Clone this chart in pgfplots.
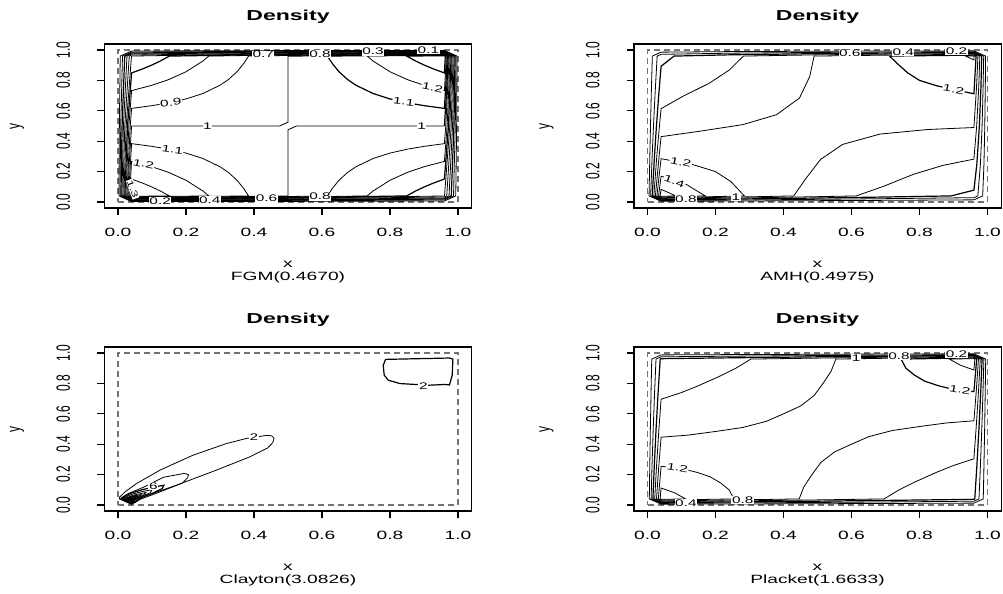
\documentclass[border=0pt]{standalone}
\usepackage{fontspec}
\setmainfont[FakeStretch=1.6]{Liberation Sans}
\newfontfamily\plainsans{Liberation Sans}
\usepackage{pgfplots}
\pgfplotsset{compat=1.18}

\pgfplotsset{
  rpanel/.style={
    anchor=south west, scale only axis,
    width=183.6pt, height=82.08pt,
    xmin=-0.04, xmax=1.04, ymin=-0.04, ymax=1.04,
    axis line style={black, line width=0.6pt},
    xtick={0,0.2,0.4,0.6,0.8,1}, ytick={0,0.2,0.4,0.6,0.8,1},
    xticklabels={0.0,0.2,0.4,0.6,0.8,1.0},
    yticklabels={0.0,0.2,0.4,0.6,0.8,1.0},
    xtick pos=bottom, ytick pos=left,
    tick align=outside, major tick length=3.5pt,
    tick style={black, line width=0.6pt},
    xticklabel style={font=\fontsize{6}{7}\selectfont},
    xticklabel shift=3pt,
    yticklabel style={font=\plainsans\fontsize{6}{7}\selectfont, xscale=1.6, rotate=90, anchor=south},
    yticklabel shift=8pt,
    cycle list={{black, solid, mark=none, line width=0.6pt}},
  },
  unitsq/.style={black!55, line width=0.6pt, dash pattern=on 3pt off 2pt},
}
\tikzset{clab/.style={font=\fontsize{4.8}{5}\selectfont, fill=white, inner sep=0.3pt}}

\begin{document}
\begin{tikzpicture}
\useasboundingbox (0pt,0pt) rectangle (501.5pt,-297pt);

% ---------------- FGM ----------------
\begin{axis}[rpanel, at={(52.2pt,-104.04pt)}]
\addplot[unitsq] coordinates {(0,0)(1,0)(1,1)(0,1)(0,0)};
% levels 0.1 - 0.6
\addplot coordinates {(0.0029,0.04)(0.004,0.5)(0.0066,0.96)(0.04,0.9934)(0.5,0.996)(0.96,0.9971)(0.9971,0.96)(0.996,0.5)(0.9934,0.04)(0.96,0.0066)(0.5,0.004)(0.04,0.0029)(0.0029,0.04)};
\addplot coordinates {(0.0057,0.04)(0.008,0.5)(0.0132,0.96)(0.04,0.9868)(0.5,0.992)(0.96,0.9943)(0.9943,0.96)(0.992,0.5)(0.9868,0.04)(0.96,0.0132)(0.5,0.008)(0.04,0.0057)(0.0057,0.04)};
\addplot coordinates {(0.0086,0.04)(0.012,0.5)(0.0198,0.96)(0.04,0.9802)(0.5,0.988)(0.96,0.9914)(0.9914,0.96)(0.988,0.5)(0.9802,0.04)(0.96,0.0198)(0.5,0.012)(0.04,0.0086)(0.0086,0.04)};
\addplot coordinates {(0.0115,0.04)(0.016,0.5)(0.0264,0.96)(0.04,0.9736)(0.5,0.984)(0.96,0.9885)(0.9885,0.96)(0.984,0.5)(0.9736,0.04)(0.96,0.0264)(0.5,0.016)(0.04,0.0115)(0.0115,0.04)};
\addplot coordinates {(0.0143,0.04)(0.02,0.5)(0.0331,0.96)(0.04,0.9669)(0.5,0.98)(0.96,0.9857)(0.9857,0.96)(0.98,0.5)(0.9669,0.04)(0.96,0.0331)(0.5,0.02)(0.04,0.0143)(0.0143,0.04)};
\addplot coordinates {(0.0172,0.04)(0.024,0.5)(0.0397,0.96)(0.04,0.9603)(0.5,0.976)(0.96,0.9828)(0.9828,0.96)(0.976,0.5)(0.9603,0.04)(0.96,0.0397)(0.5,0.024)(0.04,0.0172)(0.0172,0.04)};
% 0.7
\addplot coordinates {(0.0201,0.04)(0.028,0.5)(0.04,0.849)(0.075,0.878)(0.1,0.9015)(0.125,0.928)(0.151,0.96)(0.5,0.972)(0.96,0.9799)(0.9799,0.96)(0.972,0.5)(0.96,0.151)(0.925,0.122)(0.9,0.0985)(0.875,0.072)(0.849,0.04)(0.5,0.028)(0.04,0.0201)(0.0201,0.04)};
% 0.8
\addplot coordinates {(0.0229,0.04)(0.032,0.5)(0.04,0.733)(0.1,0.768)(0.15,0.806)(0.2,0.857)(0.25,0.928)(0.267,0.96)(0.5,0.968)(0.96,0.9771)(0.9771,0.96)(0.968,0.5)(0.96,0.267)(0.9,0.232)(0.85,0.194)(0.8,0.143)(0.75,0.072)(0.733,0.04)(0.5,0.032)(0.04,0.0229)(0.0229,0.04)};
% 0.9
\addplot coordinates {(0.0258,0.04)(0.036,0.5)(0.04,0.616)(0.1,0.634)(0.15,0.653)(0.2,0.678)(0.25,0.714)(0.3,0.768)(0.325,0.806)(0.35,0.857)(0.37,0.912)(0.384,0.96)(0.5,0.964)(0.96,0.9742)(0.9742,0.96)(0.964,0.5)(0.96,0.384)(0.9,0.366)(0.85,0.347)(0.8,0.322)(0.75,0.286)(0.7,0.232)(0.675,0.194)(0.65,0.143)(0.63,0.088)(0.616,0.04)(0.5,0.036)(0.04,0.0258)(0.0258,0.04)};
% 1.0
\addplot coordinates {(0.04,0.5)(0.0334,0.27)(0.0287,0.04)(0.04,0.0287)(0.27,0.0334)(0.5,0.04)};
\addplot coordinates {(0.5,0.96)(0.73,0.9666)(0.96,0.9713)(0.9713,0.96)(0.9666,0.73)(0.96,0.5)};
\addplot coordinates {(0.04,0.5)(0.475,0.5)(0.5,0.525)(0.5,0.96)};
\addplot coordinates {(0.5,0.04)(0.5,0.475)(0.525,0.5)(0.96,0.5)};
% 1.1
\addplot coordinates {(0.0315,0.04)(0.035,0.2)(0.04,0.384)(0.1,0.366)(0.15,0.347)(0.2,0.322)(0.25,0.286)(0.3,0.232)(0.325,0.194)(0.35,0.143)(0.37,0.088)(0.384,0.04)(0.2,0.035)(0.04,0.0315)(0.0315,0.04)};
\addplot coordinates {(0.9685,0.96)(0.965,0.8)(0.96,0.616)(0.9,0.634)(0.85,0.653)(0.8,0.678)(0.75,0.714)(0.7,0.768)(0.675,0.806)(0.65,0.857)(0.63,0.912)(0.616,0.96)(0.8,0.965)(0.96,0.9685)(0.9685,0.96)};
% 1.2
\addplot coordinates {(0.0344,0.04)(0.0369,0.15)(0.04,0.267)(0.1,0.232)(0.15,0.194)(0.2,0.143)(0.25,0.072)(0.267,0.04)(0.15,0.0369)(0.04,0.0344)(0.0344,0.04)};
\addplot coordinates {(0.9656,0.96)(0.9631,0.85)(0.96,0.733)(0.9,0.768)(0.85,0.806)(0.8,0.857)(0.75,0.928)(0.733,0.96)(0.85,0.9631)(0.96,0.9656)(0.9656,0.96)};
% 1.3
\addplot coordinates {(0.0373,0.04)(0.04,0.151)(0.075,0.122)(0.1,0.0985)(0.125,0.072)(0.151,0.04)(0.04,0.0373)(0.0373,0.04)};
\addplot coordinates {(0.9627,0.96)(0.96,0.849)(0.925,0.878)(0.9,0.9015)(0.875,0.928)(0.849,0.96)(0.96,0.9627)(0.9627,0.96)};
\node[clab, rotate=8] at (axis cs:0.155,0.655) {0.9};
\node[clab] at (axis cs:0.263,0.5) {1};
\node[clab] at (axis cs:0.893,0.5) {1};
\node[clab, rotate=-8] at (axis cs:0.16,0.344) {1.1};
\node[clab, rotate=-12] at (axis cs:0.075,0.25) {1.2};
\node[clab, rotate=-70, font=\fontsize{4.2}{4.5}\selectfont] at (axis cs:0.043,0.085) {1.3};
\node[clab, rotate=-12] at (axis cs:0.925,0.753) {1.2};
\node[clab, rotate=-8] at (axis cs:0.84,0.66) {1.1};
\node[clab] at (axis cs:0.124,0.006) {0.2};
\node[clab] at (axis cs:0.27,0.013) {0.4};
\node[clab] at (axis cs:0.437,0.023) {0.6};
\node[clab] at (axis cs:0.594,0.035) {0.8};
\node[clab] at (axis cs:0.427,0.97) {0.7};
\node[clab] at (axis cs:0.594,0.975) {0.8};
\node[clab] at (axis cs:0.75,0.99) {0.3};
\node[clab] at (axis cs:0.913,0.997) {0.1};
\end{axis}

% ---------------- AMH ----------------
\begin{axis}[rpanel, at={(316.95pt,-104.04pt)}]
\addplot[unitsq] coordinates {(0,0)(1,0)(1,1)(0,1)(0,0)};
\addplot coordinates {(0.0046,0.04)(0.0068,0.3)(0.0088,0.5)(0.011,0.7)(0.0142,0.96)(0.04,0.9858)(0.25,0.9896)(0.5,0.992)(0.75,0.9935)(0.96,0.9944)(0.9944,0.96)(0.9935,0.75)(0.992,0.5)(0.9896,0.25)(0.9858,0.04)(0.96,0.0142)(0.7,0.011)(0.5,0.0088)(0.3,0.0068)(0.04,0.0046)(0.0046,0.04)};
\addplot coordinates {(0.0093,0.04)(0.0136,0.3)(0.0176,0.5)(0.022,0.7)(0.0284,0.96)(0.04,0.9716)(0.25,0.9792)(0.5,0.9841)(0.75,0.987)(0.96,0.9888)(0.9888,0.96)(0.987,0.75)(0.9841,0.5)(0.9792,0.25)(0.9716,0.04)(0.96,0.0284)(0.7,0.022)(0.5,0.0176)(0.3,0.0136)(0.04,0.0093)(0.0093,0.04)};
\addplot coordinates {(0.0139,0.04)(0.0205,0.3)(0.0263,0.5)(0.0329,0.7)(0.04,0.893)(0.078,0.96)(0.25,0.9687)(0.5,0.9761)(0.75,0.9806)(0.96,0.9831)(0.9831,0.96)(0.9806,0.75)(0.9761,0.5)(0.9687,0.25)(0.96,0.078)(0.893,0.04)(0.7,0.0329)(0.5,0.0263)(0.3,0.0205)(0.04,0.0139)(0.0139,0.04)};
\addplot coordinates {(0.0186,0.04)(0.0273,0.3)(0.0351,0.5)(0.04,0.614)(0.103,0.694)(0.182,0.782)(0.241,0.869)(0.282,0.96)(0.5,0.9682)(0.75,0.9741)(0.96,0.9775)(0.9775,0.96)(0.9741,0.75)(0.9682,0.5)(0.96,0.282)(0.869,0.241)(0.782,0.182)(0.694,0.103)(0.614,0.04)(0.5,0.0351)(0.3,0.0273)(0.04,0.0186)(0.0186,0.04)};
\addplot coordinates {(0.0232,0.04)(0.0341,0.3)(0.04,0.43)(0.152,0.465)(0.28,0.509)(0.379,0.574)(0.447,0.684)(0.477,0.825)(0.49,0.96)(0.75,0.9676)(0.96,0.9719)(0.9719,0.96)(0.9676,0.75)(0.96,0.49)(0.825,0.477)(0.684,0.447)(0.574,0.379)(0.509,0.28)(0.465,0.152)(0.43,0.04)(0.3,0.0341)(0.04,0.0232)(0.0232,0.04)};
\addplot coordinates {(0.0278,0.04)(0.033,0.15)(0.04,0.285)(0.135,0.245)(0.2,0.2)(0.245,0.135)(0.285,0.04)(0.15,0.033)(0.04,0.0278)(0.0278,0.04)};
\addplot coordinates {(0.712,0.96)(0.75,0.9611)(0.96,0.9663)(0.9663,0.96)(0.9611,0.75)(0.96,0.712)(0.9,0.74)(0.85,0.765)(0.8,0.8)(0.765,0.85)(0.74,0.9)(0.712,0.96)};
\addplot coordinates {(0.0325,0.04)(0.04,0.17)(0.08,0.14)(0.115,0.115)(0.14,0.08)(0.17,0.04)(0.04,0.0325)(0.0325,0.04)};
\addplot coordinates {(0.935,0.96)(0.96,0.9607)(0.9607,0.96)(0.96,0.935)(0.935,0.96)};
\addplot coordinates {(0.0371,0.04)(0.04,0.083)(0.062,0.062)(0.083,0.04)(0.04,0.0371)(0.0371,0.04)};
\node[clab, rotate=-12] at (axis cs:0.098,0.262) {1.2};
\node[clab, rotate=-20] at (axis cs:0.079,0.135) {1.4};
\node[clab] at (axis cs:0.113,0.02) {0.8};
\node[clab] at (axis cs:0.26,0.03) {1};
\node[clab] at (axis cs:0.595,0.976) {0.6};
\node[clab] at (axis cs:0.752,0.987) {0.4};
\node[clab] at (axis cs:0.909,0.994) {0.2};
\node[clab, rotate=-10] at (axis cs:0.9,0.74) {1.2};
\end{axis}

% ---------------- Clayton ----------------
\begin{axis}[rpanel, at={(52.2pt,-255.54pt)}]
\addplot[unitsq] coordinates {(0,0)(1,0)(1,1)(0,1)(0,0)};
\addplot coordinates {(0.004,0.05)(0.02,0.085)(0.055,0.142)(0.124,0.23)(0.221,0.328)(0.32,0.405)(0.378,0.438)(0.437,0.458)(0.452,0.455)(0.459,0.44)(0.455,0.41)(0.44,0.375)(0.388,0.317)(0.29,0.23)(0.173,0.131)(0.074,0.055)(0.045,0.015)(0.04,0.004)(0.004,0.04)(0.004,0.05)};
\addplot coordinates {(0.008,0.045)(0.03,0.075)(0.074,0.116)(0.133,0.182)(0.195,0.208)(0.207,0.2)(0.205,0.18)(0.19,0.145)(0.124,0.087)(0.065,0.037)(0.05,0.015)(0.04,0.008)(0.008,0.04)(0.008,0.045)};
\addplot coordinates {(0.011,0.045)(0.035,0.075)(0.07,0.1)(0.105,0.118)(0.135,0.13)(0.13,0.108)(0.1,0.075)(0.065,0.045)(0.05,0.02)(0.04,0.011)(0.011,0.04)(0.011,0.045)};
\addplot coordinates {(0.015,0.044)(0.04,0.07)(0.07,0.088)(0.1,0.1)(0.095,0.08)(0.07,0.058)(0.052,0.035)(0.045,0.02)(0.04,0.015)(0.015,0.04)(0.015,0.044)};
\addplot coordinates {(0.019,0.043)(0.045,0.065)(0.082,0.082)(0.075,0.065)(0.055,0.045)(0.045,0.025)(0.04,0.019)(0.019,0.04)(0.019,0.043)};
\addplot coordinates {(0.023,0.043)(0.045,0.06)(0.068,0.068)(0.062,0.056)(0.05,0.042)(0.045,0.028)(0.04,0.023)(0.023,0.04)(0.023,0.043)};
\addplot coordinates {(0.027,0.042)(0.045,0.055)(0.058,0.058)(0.052,0.048)(0.045,0.035)(0.04,0.027)(0.027,0.04)(0.027,0.042)};
\addplot coordinates {(0.031,0.041)(0.051,0.051)(0.047,0.044)(0.043,0.035)(0.04,0.031)(0.031,0.04)(0.031,0.041)};
\addplot coordinates {(0.034,0.041)(0.046,0.046)(0.043,0.04)(0.04,0.034)(0.034,0.04)(0.034,0.041)};
\addplot coordinates {(0.038,0.04)(0.041,0.041)(0.04,0.038)(0.038,0.04)};
\addplot coordinates {(0.787,0.958)(0.975,0.967)(0.985,0.96)(0.983,0.854)(0.975,0.79)(0.962,0.793)(0.913,0.788)(0.829,0.799)(0.795,0.821)(0.783,0.854)(0.78,0.919)(0.787,0.958)};
\node[clab] at (axis cs:0.4,0.449) {2};
\node[clab] at (axis cs:0.898,0.785) {2};
\node[clab] at (axis cs:0.104,0.122) {6};
\end{axis}

% ---------------- Plackett ----------------
\begin{axis}[rpanel, at={(316.95pt,-255.54pt)}]
\addplot[unitsq] coordinates {(0,0)(1,0)(1,1)(0,1)(0,0)};
\addplot coordinates {(0.0053,0.04)(0.0066,0.25)(0.0084,0.5)(0.0105,0.75)(0.0125,0.96)(0.04,0.9875)(0.25,0.9895)(0.5,0.9916)(0.75,0.9934)(0.96,0.9947)(0.9947,0.96)(0.9934,0.75)(0.9916,0.5)(0.9895,0.25)(0.9875,0.04)(0.96,0.0125)(0.75,0.0105)(0.5,0.0084)(0.25,0.0066)(0.04,0.0053)(0.0053,0.04)};
\addplot coordinates {(0.0106,0.04)(0.0132,0.25)(0.0168,0.5)(0.021,0.75)(0.025,0.96)(0.04,0.975)(0.25,0.979)(0.5,0.9832)(0.75,0.9868)(0.96,0.9894)(0.9894,0.96)(0.9868,0.75)(0.9832,0.5)(0.979,0.25)(0.975,0.04)(0.96,0.025)(0.75,0.021)(0.5,0.0168)(0.25,0.0132)(0.04,0.0106)(0.0106,0.04)};
\addplot coordinates {(0.0159,0.04)(0.0198,0.25)(0.0252,0.5)(0.0315,0.75)(0.0374,0.96)(0.04,0.9626)(0.25,0.9685)(0.5,0.9748)(0.75,0.9802)(0.96,0.9841)(0.9841,0.96)(0.9802,0.75)(0.9748,0.5)(0.9685,0.25)(0.9626,0.04)(0.96,0.0374)(0.75,0.0315)(0.5,0.0252)(0.25,0.0198)(0.04,0.0159)(0.0159,0.04)};
\addplot coordinates {(0.0212,0.04)(0.0264,0.25)(0.0336,0.5)(0.04,0.696)(0.1,0.74)(0.15,0.785)(0.215,0.85)(0.26,0.9)(0.304,0.96)(0.5,0.9664)(0.75,0.9736)(0.96,0.9788)(0.9788,0.96)(0.9736,0.75)(0.9664,0.5)(0.96,0.304)(0.9,0.26)(0.85,0.215)(0.785,0.15)(0.74,0.1)(0.696,0.04)(0.5,0.0336)(0.25,0.0264)(0.04,0.0212)(0.0212,0.04)};
\addplot coordinates {(0.0265,0.04)(0.033,0.25)(0.04,0.446)(0.12,0.46)(0.201,0.484)(0.28,0.51)(0.349,0.55)(0.4,0.6)(0.45,0.651)(0.49,0.72)(0.516,0.799)(0.54,0.88)(0.554,0.96)(0.75,0.967)(0.96,0.9735)(0.9735,0.96)(0.967,0.75)(0.96,0.554)(0.88,0.54)(0.799,0.516)(0.72,0.49)(0.651,0.45)(0.6,0.4)(0.55,0.349)(0.51,0.28)(0.484,0.201)(0.46,0.12)(0.446,0.04)(0.25,0.033)(0.04,0.0265)(0.0265,0.04)};
\addplot coordinates {(0.0318,0.04)(0.04,0.254)(0.1,0.24)(0.145,0.215)(0.185,0.185)(0.215,0.145)(0.24,0.1)(0.254,0.04)(0.04,0.0318)(0.0318,0.04)};
\addplot coordinates {(0.9682,0.96)(0.96,0.746)(0.9,0.76)(0.855,0.785)(0.815,0.815)(0.785,0.855)(0.76,0.9)(0.746,0.96)(0.96,0.9682)(0.9682,0.96)};
\addplot coordinates {(0.0371,0.04)(0.04,0.112)(0.08,0.08)(0.112,0.04)(0.04,0.0371)(0.0371,0.04)};
\addplot coordinates {(0.9629,0.96)(0.96,0.888)(0.92,0.92)(0.888,0.96)(0.96,0.9629)(0.9629,0.96)};
\node[clab, rotate=-10] at (axis cs:0.088,0.245) {1.2};
\node[clab] at (axis cs:0.113,0.015) {0.4};
\node[clab] at (axis cs:0.28,0.031) {0.8};
\node[clab] at (axis cs:0.614,0.968) {1};
\node[clab] at (axis cs:0.74,0.978) {0.8};
\node[clab] at (axis cs:0.909,0.993) {0.2};
\node[clab, rotate=-10] at (axis cs:0.919,0.757) {1.2};
\end{axis}

% ---------------- titles and labels ----------------
\node[anchor=base, font=\bfseries\fontsize{7.2}{8}\selectfont] at (144pt,-10pt) {Density};
\node[anchor=base, font=\bfseries\fontsize{7.2}{8}\selectfont] at (408.75pt,-10pt) {Density};
\node[anchor=base, font=\bfseries\fontsize{7.2}{8}\selectfont] at (144pt,-161.5pt) {Density};
\node[anchor=base, font=\bfseries\fontsize{7.2}{8}\selectfont] at (408.75pt,-161.5pt) {Density};
\node[anchor=base, font=\fontsize{6}{7}\selectfont] at (144pt,-133.5pt) {x};
\node[anchor=base, font=\fontsize{6}{7}\selectfont] at (144pt,-140.25pt) {FGM(0.4670)};
\node[anchor=base, font=\fontsize{6}{7}\selectfont] at (408.75pt,-133.5pt) {x};
\node[anchor=base, font=\fontsize{6}{7}\selectfont] at (408.75pt,-140.25pt) {AMH(0.4975)};
\node[anchor=base, font=\fontsize{6}{7}\selectfont] at (144pt,-285pt) {x};
\node[anchor=base, font=\fontsize{6}{7}\selectfont] at (144pt,-291.75pt) {Clayton(3.0826)};
\node[anchor=base, font=\fontsize{6}{7}\selectfont] at (408.75pt,-285pt) {x};
\node[anchor=base, font=\fontsize{6}{7}\selectfont] at (408.75pt,-291.75pt) {Placket(1.6633)};
\node[font=\plainsans\fontsize{6}{7}\selectfont, xscale=1.6, rotate=90] at (8.5pt,-63pt) {y};
\node[font=\plainsans\fontsize{6}{7}\selectfont, xscale=1.6, rotate=90] at (273.25pt,-63pt) {y};
\node[font=\plainsans\fontsize{6}{7}\selectfont, xscale=1.6, rotate=90] at (8.5pt,-214.5pt) {y};
\node[font=\plainsans\fontsize{6}{7}\selectfont, xscale=1.6, rotate=90] at (273.25pt,-214.5pt) {y};
\end{tikzpicture}
\end{document}
